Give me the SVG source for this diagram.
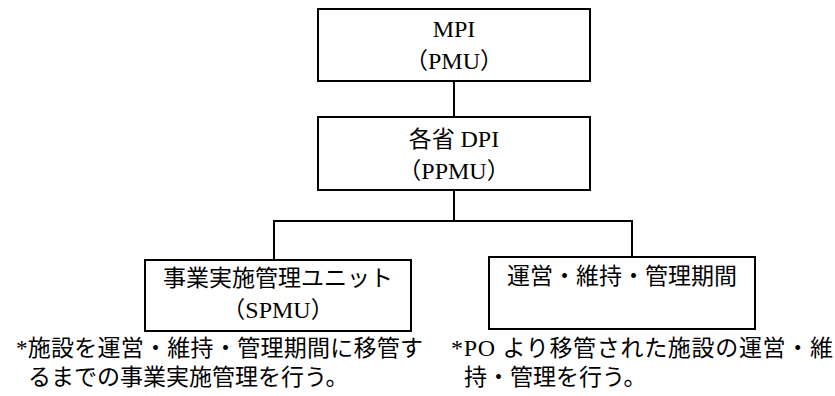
<svg xmlns="http://www.w3.org/2000/svg" width="835" height="396" viewBox="0 0 835 396">
  <style>
    .box { fill: #ffffff; stroke: #000000; stroke-width: 2; }
    .conn { fill: none; stroke: #000000; stroke-width: 2; }
    text { font-family: "Liberation Serif", "Times New Roman", "Noto Sans CJK JP", serif; font-size: 23px; fill: #000000; }
    .lat { font-family: "Liberation Serif", "Times New Roman", serif; font-size: 24px; }
    .c { text-anchor: middle; }
  </style>
  <rect width="835" height="396" fill="#ffffff"/>
  <g id="connectors">
    <line class="conn" x1="454" y1="82" x2="454" y2="117"/>
    <polyline class="conn" points="454,190 454,221"/>
    <polyline class="conn" points="274,260 274,221 632,221 632,257"/>
  </g>
  <g id="mpi">
    <rect class="box" x="318" y="9" width="272" height="72"/>
    <text class="c lat" x="454" y="37">MPI</text>
    <text class="c" x="454" y="68.5">（<tspan class="lat">PMU</tspan>）</text>
  </g>
  <g id="dpi">
    <rect class="box" x="318" y="117" width="272" height="73"/>
    <text class="c" x="454" y="146.5">各省 <tspan class="lat">DPI</tspan></text>
    <text class="c" x="454" y="178.5">（<tspan class="lat">PPMU</tspan>）</text>
  </g>
  <g id="spmu">
    <rect class="box" x="145" y="260" width="266" height="71"/>
    <text class="c" x="278" y="286">事業実施管理ユニット</text>
    <text class="c" x="278" y="318">（<tspan class="lat">SPMU</tspan>）</text>
  </g>
  <g id="om">
    <rect class="box" x="489" y="257" width="266" height="72"/>
    <text class="c" x="622" y="284">運営・維持・管理期間</text>
  </g>
  <g id="notes">
    <text x="16" y="356" textLength="407" lengthAdjust="spacing">*施設を運営・維持・管理期間に移管す</text>
    <text x="28" y="385">るまでの事業実施管理を行う。</text>
    <text x="451" y="356" textLength="382" lengthAdjust="spacing"><tspan class="lat">*PO </tspan>より移管された施設の運営・維</text>
    <text x="464" y="385">持・管理を行う。</text>
  </g>
</svg>
